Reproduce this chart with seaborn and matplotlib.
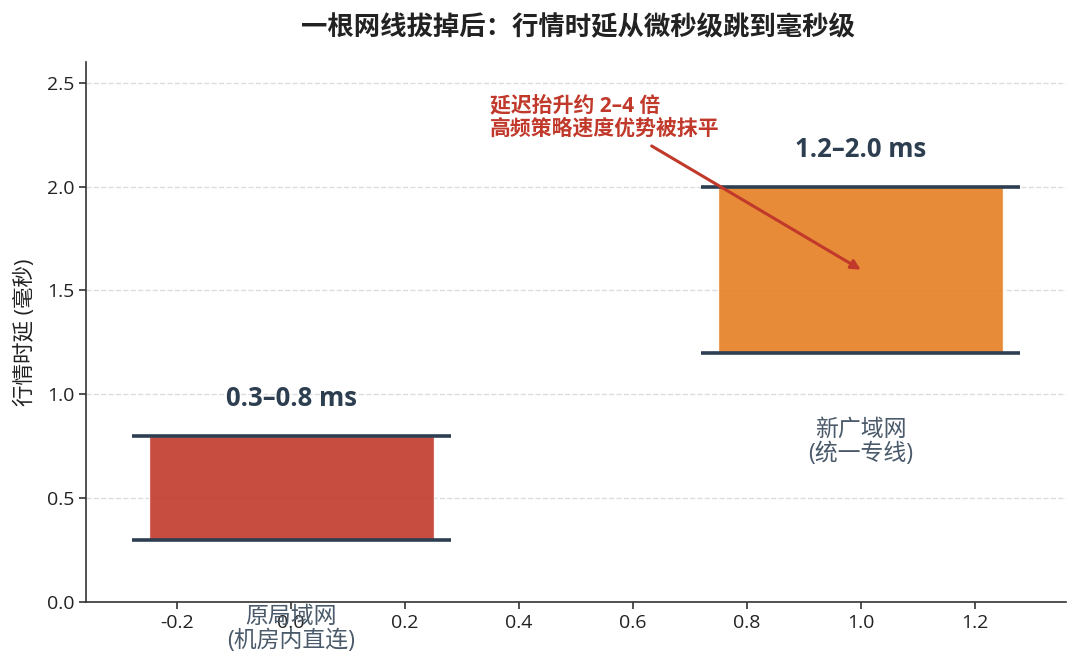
import matplotlib
matplotlib.use("Agg")
import matplotlib.pyplot as plt
import seaborn as sns
import pandas as pd

# ---- data ----
categories = ["原局域网\n(机房内直连)", "新广域网\n(统一专线)"]
positions = [0, 1]
low_ms = [0.3, 1.2]
high_ms = [0.8, 2.0]
range_labels = ["0.3–0.8 ms", "1.2–2.0 ms"]
bar_colors = ["#c0392b", "#e67e22"]
title = "一根网线拔掉后：行情时延从微秒级跳到毫秒级"
ylabel = "行情时延 (毫秒)"
note = "延迟抬升约 2–4 倍\n高频策略速度优势被抹平"
note_target = (1.0, 1.6)
note_pos = (0.55, 2.33)

sns.set_theme(style="white")
plt.rcParams["font.family"] = ["Open Sans", "Noto Sans CJK SC", "DejaVu Sans"]
plt.rcParams["axes.unicode_minus"] = False

fig = plt.figure(figsize=(10.8, 6.7), dpi=100)
ax = fig.add_axes([0.0796, 0.1015, 0.9074, 0.806])

dark = "#2c3e50"
for pos, lo, hi, col in zip(positions, low_ms, high_ms, bar_colors):
    df = pd.DataFrame({"x": [pos], "h": [hi - lo]})
    sns.barplot(data=df, x="x", y="h", bottom=lo, color=col, alpha=0.9,
                saturation=1, width=0.5, native_scale=True, ax=ax, zorder=2)

for pos, lo, hi, lab in zip(positions, low_ms, high_ms, range_labels):
    ax.hlines([lo, hi], pos - 0.28, pos + 0.28, colors=dark, lw=2.6, zorder=3)
    ax.text(pos, hi + 0.18, lab, ha="center", va="center", fontsize=18.5,
            fontweight="bold", color=dark)

for pos, lo, cat in zip(positions, low_ms, categories):
    ax.text(pos, lo - 0.43, cat, ha="center", va="center", fontsize=16.5,
            color="#4a5a6a", linespacing=1.0)

ax.annotate(note, xy=note_target, xytext=note_pos, ha="center", va="center",
            multialignment="left",
            fontsize=15, fontweight="bold", color="#c0392b", linespacing=1.1,
            arrowprops=dict(arrowstyle="-|>", color="#c0392b", lw=2.2,
                            mutation_scale=14, shrinkA=4, shrinkB=0))

ax.set_xlim(-0.36, 1.36)
ax.set_ylim(0, 2.6)
ax.set_xticks([-0.2, 0.0, 0.2, 0.4, 0.6, 0.8, 1.0, 1.2])
ax.set_xticklabels(["-0.2", "0.0", "0.2", "0.4", "0.6", "0.8", "1.0", "1.2"])
ax.set_yticks([0.0, 0.5, 1.0, 1.5, 2.0, 2.5])
ax.set_xlabel("")
ax.set_ylabel(ylabel, fontsize=15.5, color="#222222", labelpad=8)
ax.tick_params(axis="both", labelsize=14, colors="#222222", length=5, width=1.1,
               bottom=True, left=True)
ax.yaxis.grid(True, linestyle="--", color="#dddddd", lw=1.0)
ax.set_axisbelow(True)
sns.despine(ax=ax)
for s in ["left", "bottom"]:
    ax.spines[s].set_color("#333333")
    ax.spines[s].set_linewidth(1.2)

fig.text(0.535, 0.958, title, ha="center", va="center", fontsize=19,
         fontweight="bold", color="#222222")

fig.savefig("out.png", dpi=100)
